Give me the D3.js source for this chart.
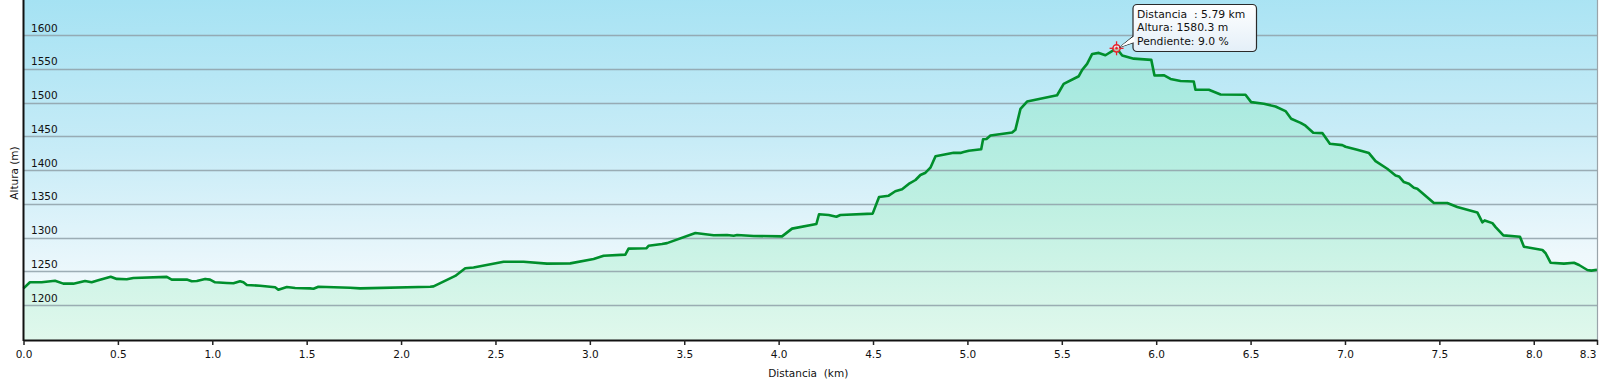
<!DOCTYPE html>
<html>
<head>
<meta charset="utf-8">
<script src="https://cdn.jsdelivr.net/npm/d3@7"></script>
<style>
  html, body { margin: 0; padding: 0; background: #ffffff; }
  svg { display: block; }
  text { font-family: "DejaVu Sans", Verdana, sans-serif; fill: #111; }
</style>
</head>
<body>
<svg id="chart" width="1601" height="387"></svg>
<script>
// ---------- data ----------
const distanceKm = [
  0.000, 0.034, 0.096, 0.167, 0.211, 0.264, 0.326, 0.361, 0.396, 0.462,
  0.494, 0.547, 0.582, 0.759, 0.785, 0.865, 0.891, 0.918, 0.962, 0.988,
  1.015, 1.077, 1.112, 1.147, 1.165, 1.183, 1.253, 1.333, 1.350, 1.395,
  1.439, 1.518, 1.536, 1.562, 1.730, 1.783, 2.154, 2.172, 2.287, 2.340,
  2.384, 2.543, 2.649, 2.773, 2.896, 3.020, 3.073, 3.188, 3.205, 3.299,
  3.311, 3.382, 3.409, 3.559, 3.656, 3.727, 3.762, 3.780, 3.868, 4.018,
  4.071, 4.200, 4.214, 4.265, 4.306, 4.327, 4.498, 4.532, 4.583, 4.618,
  4.654, 4.689, 4.725, 4.751, 4.778, 4.804, 4.831, 4.927, 4.963, 4.980,
  5.007, 5.073, 5.083, 5.101, 5.122, 5.237, 5.254, 5.281, 5.316, 5.475,
  5.510, 5.590, 5.608, 5.634, 5.661, 5.696, 5.731, 5.790, 5.820, 5.881,
  5.974, 5.991, 6.040, 6.076, 6.129, 6.199, 6.208, 6.279, 6.341, 6.473,
  6.503, 6.570, 6.632, 6.685, 6.715, 6.765, 6.791, 6.832, 6.880, 6.920,
  6.986, 7.003, 7.065, 7.127, 7.162, 7.224, 7.268, 7.286, 7.312, 7.339,
  7.365, 7.383, 7.471, 7.542, 7.595, 7.648, 7.701, 7.728, 7.740, 7.781,
  7.798, 7.839, 7.927, 7.948, 8.046, 8.063, 8.089, 8.160, 8.213, 8.240,
  8.284, 8.305, 8.335
];
const elevationM = [
  1225, 1234, 1234, 1236.4, 1232, 1232, 1236, 1234, 1237, 1242.3,
  1239, 1238.5, 1240.4, 1242, 1238, 1238, 1235.5, 1236, 1239, 1238,
  1234, 1233, 1232.5, 1235.5, 1234, 1230, 1229, 1226.6, 1223, 1227,
  1225.6, 1225, 1224.5, 1227.5, 1226, 1225, 1227.5, 1228, 1243.4, 1254.7,
  1256, 1264.5, 1264.5, 1261.6, 1262, 1268.5, 1273.4, 1275, 1283.8, 1284.3,
  1288, 1290.7, 1292, 1307, 1303.6, 1304, 1303, 1304, 1302.6, 1302,
  1313.4, 1320.3, 1334.7, 1333.6, 1331, 1333.6, 1335.6, 1360.3, 1362.2, 1368.7,
  1371.6, 1379.5, 1385.4, 1392.8, 1396.2, 1403.6, 1420.5, 1425.8, 1425.5, 1426.8,
  1428.8, 1430.8, 1445.6, 1446, 1451.2, 1455.6, 1459.6, 1490.6, 1501.5, 1510.8,
  1527.7, 1539, 1548.4, 1557.2, 1572, 1573.5, 1570, 1580.3, 1569.6, 1565,
  1563.2, 1540, 1540.5, 1535, 1532, 1531.2, 1519, 1519, 1512, 1511.5,
  1500.6, 1498.2, 1494.2, 1487.4, 1476, 1470, 1465.7, 1455.3, 1454.8, 1439,
  1437, 1434.6, 1430.2, 1425.2, 1413.4, 1402.1, 1392.2, 1390.7, 1382.3, 1379.9,
  1374, 1372.5, 1351.3, 1351.3, 1345.4, 1341.4, 1337.4, 1322.7, 1325.6, 1321.6,
  1315.7, 1303.4, 1301.5, 1286.7, 1281.8, 1277, 1263, 1261.6, 1263, 1259.6,
  1252.2, 1251.3, 1252.7
];
const yTickValues = [1200, 1250, 1300, 1350, 1400, 1450, 1500, 1550, 1600];
const xTickValues = [0, 0.5, 1, 1.5, 2, 2.5, 3, 3.5, 4, 4.5, 5, 5.5, 6, 6.5, 7, 7.5, 8, 8.335];
const xTickLabels = ["0.0","0.5","1.0","1.5","2.0","2.5","3.0","3.5","4.0","4.5","5.0","5.5","6.0","6.5","7.0","7.5","8.0","8.3"];
const xTitle = "Distancia  (km)";
const yTitle = "Altura (m)";
const tooltipLines = ["Distancia  : 5.79 km", "Altura: 1580.3 m", "Pendiente: 9.0 %"];
const markerKm = 5.79, markerM = 1580.3;

// ---------- layout ----------
const plot = { left: 23.5, right: 1597, top: 0, bottom: 340 };
const x = d3.scaleLinear().domain([0, 8.335]).range([plot.left, plot.right]);
const y = d3.scaleLinear().domain([1148.6, 1651.8]).range([plot.bottom, plot.top]);

const svg = d3.select("#chart");
const defs = svg.append("defs");

const bg = defs.append("linearGradient").attr("id", "bg")
  .attr("x1", 0).attr("y1", 0).attr("x2", 0.08).attr("y2", 1);
bg.append("stop").attr("offset", "0%").attr("stop-color", "#a5e2f3");
bg.append("stop").attr("offset", "45%").attr("stop-color", "#c8ecf7");
bg.append("stop").attr("offset", "82%").attr("stop-color", "#eef8fc");
bg.append("stop").attr("offset", "100%").attr("stop-color", "#f4fbfd");

const ag = defs.append("linearGradient").attr("id", "areaGrad")
  .attr("gradientUnits", "userSpaceOnUse")
  .attr("x1", 0).attr("y1", 40).attr("x2", 0).attr("y2", plot.bottom);
ag.append("stop").attr("offset", "0%").attr("stop-color", "#9fe7df");
ag.append("stop").attr("offset", "55%").attr("stop-color", "#bff0e2");
ag.append("stop").attr("offset", "100%").attr("stop-color", "#e0f8ec");

const tg = defs.append("linearGradient").attr("id", "tipGrad")
  .attr("x1", 0).attr("y1", 0).attr("x2", 0).attr("y2", 1);
tg.append("stop").attr("offset", "0%").attr("stop-color", "#ffffff");
tg.append("stop").attr("offset", "100%").attr("stop-color", "#e4eff8");

// plot background
svg.append("rect")
  .attr("x", plot.left).attr("y", plot.top)
  .attr("width", plot.right - plot.left).attr("height", plot.bottom - plot.top)
  .attr("fill", "url(#bg)");

const data = distanceKm.map((d, i) => ({ d, e: elevationM[i] }));

// area
svg.append("path")
  .datum(data)
  .attr("fill", "url(#areaGrad)")
  .attr("d", d3.area().x(p => x(p.d)).y0(plot.bottom).y1(p => y(p.e)));

// gridlines
svg.append("g").selectAll("line")
  .data(yTickValues).join("line")
  .attr("x1", plot.left).attr("x2", plot.right)
  .attr("y1", v => Math.round(y(v)) + 0.5).attr("y2", v => Math.round(y(v)) + 0.5)
  .attr("stroke", "#8fa0a8").attr("stroke-opacity", 0.85).attr("stroke-width", 1.3);

// y tick labels (inside plot)
svg.append("g").selectAll("text")
  .data(yTickValues).join("text")
  .attr("x", 31).attr("y", v => y(v) - 3.5)
  .attr("font-size", "10.5px")
  .text(v => v);

// line
svg.append("path")
  .datum(data)
  .attr("fill", "none")
  .attr("stroke", "#008f2c")
  .attr("stroke-width", 2.6)
  .attr("stroke-linejoin", "round")
  .attr("d", d3.line().x(p => x(p.d)).y(p => y(p.e)));

// right border
svg.append("line")
  .attr("x1", plot.right + 0.5).attr("x2", plot.right + 0.5)
  .attr("y1", 0).attr("y2", plot.bottom)
  .attr("stroke", "#9aa4aa").attr("stroke-width", 1.2);

// x axis
const xAxis = d3.axisBottom(x)
  .tickValues(xTickValues)
  .tickFormat((d, i) => xTickLabels[i])
  .tickSize(5).tickSizeOuter(0).tickPadding(6);
const gx = svg.append("g").attr("transform", `translate(0,${plot.bottom})`).call(xAxis);
gx.select(".domain").attr("stroke", "#111").attr("stroke-width", 2);
gx.selectAll(".tick line").attr("stroke", "#222").attr("stroke-width", 1.5);
gx.selectAll(".tick text")
  .attr("font-family", "DejaVu Sans, Verdana, sans-serif")
  .attr("font-size", "10.5px").attr("fill", "#111")
  .attr("dy", "0.71em");
gx.selectAll(".tick").filter((d, i) => i === xTickValues.length - 1)
  .select("text").attr("text-anchor", "end").attr("x", -1);

// y axis line
svg.append("line")
  .attr("x1", plot.left).attr("x2", plot.left)
  .attr("y1", 0).attr("y2", plot.bottom + 1)
  .attr("stroke", "#111").attr("stroke-width", 2);

// axis titles
svg.append("text")
  .attr("x", (plot.left + plot.right) / 2 - 2).attr("y", 376.5)
  .attr("text-anchor", "middle").attr("font-size", "10.5px")
  .style("white-space", "pre")
  .text(xTitle);
svg.append("text")
  .attr("transform", "translate(18,173) rotate(-90)")
  .attr("text-anchor", "middle").attr("font-size", "10.5px")
  .text(yTitle);

// marker
const mx = x(markerKm), my = y(markerM);
const mk = svg.append("g").attr("transform", `translate(${mx},${my})`);
mk.append("line").attr("x1", -7).attr("x2", 7).attr("y1", 0).attr("y2", 0)
  .attr("stroke", "#e8202a").attr("stroke-width", 1.3);
mk.append("line").attr("x1", 0).attr("x2", 0).attr("y1", -7).attr("y2", 7)
  .attr("stroke", "#e8202a").attr("stroke-width", 1.3);
mk.append("circle").attr("r", 3.6).attr("fill", "#ffffff").attr("fill-opacity", 0.6)
  .attr("stroke", "#e8202a").attr("stroke-width", 1.5);
mk.append("circle").attr("r", 1.2).attr("fill", "#e8202a");

// tooltip
const tip = { x: 1133, y: 4.5, w: 123.5, h: 47 };
svg.append("path")
  .attr("d", `M${tip.x + 1},${tip.y + 31} L${mx + 3},${my - 1} L${tip.x + 1},${tip.y + 38} Z`)
  .attr("fill", "#ffffff").attr("stroke", "#222").attr("stroke-width", 1);
svg.append("rect")
  .attr("x", tip.x).attr("y", tip.y).attr("width", tip.w).attr("height", tip.h)
  .attr("rx", 4).attr("ry", 4)
  .attr("fill", "url(#tipGrad)").attr("stroke", "#2a2a2a").attr("stroke-width", 1.2);
svg.append("path")
  .attr("d", `M${tip.x + 1.5},${tip.y + 31.5} L${mx + 3},${my - 1} L${tip.x + 1.5},${tip.y + 37.5}`)
  .attr("fill", "#ffffff").attr("stroke", "none");
svg.append("g").selectAll("text")
  .data(tooltipLines).join("text")
  .attr("x", tip.x + 4).attr("y", (d, i) => 18 + i * 13.3)
  .attr("font-size", "10.8px")
  .style("white-space", "pre")
  .text(d => d);
</script>
</body>
</html>
